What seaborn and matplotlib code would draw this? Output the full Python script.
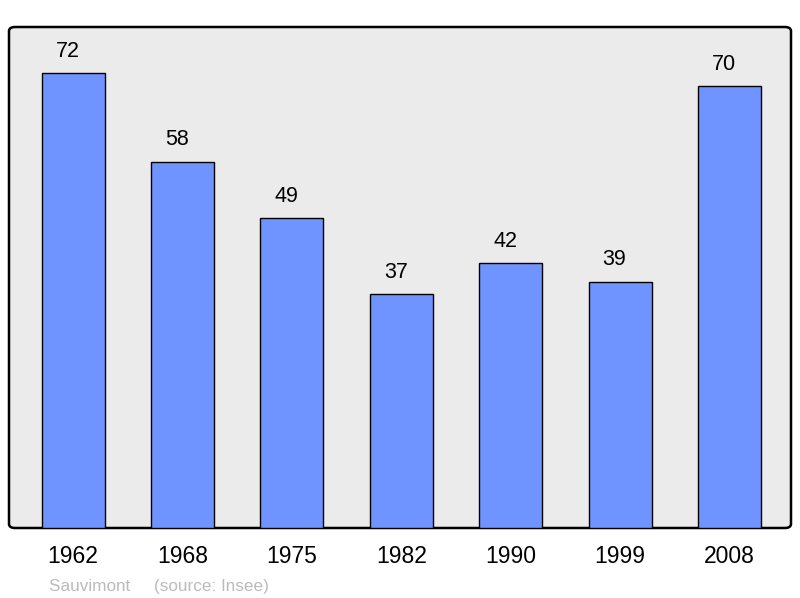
import seaborn as sns
import pandas as pd
import matplotlib.pyplot as plt
from matplotlib.patches import FancyBboxPatch

# population data
years = ['1962', '1968', '1975', '1982', '1990', '1999', '2008']
population = [72, 58, 49, 37, 42, 39, 70]

df = pd.DataFrame({'year': years, 'pop': population})

sns.set_style('white')
plt.rcParams['font.family'] = ['Liberation Sans', 'DejaVu Sans']
plt.rcParams['text.color'] = 'black'
plt.rcParams['xtick.color'] = 'black'

fig = plt.figure(figsize=(8, 5.98), dpi=100)
ax = fig.add_axes([9 / 800, 1 - 528 / 598, 782 / 800, 501 / 598])
ax.set_facecolor('none')

# rounded background frame
frame = FancyBboxPatch((0, 0), 1, 1, boxstyle='round,pad=0,rounding_size=0.008',
                       transform=ax.transAxes, facecolor='#ebebeb', edgecolor='black',
                       linewidth=1.8, zorder=0, clip_on=False)
ax.add_patch(frame)

sns.barplot(data=df, x='year', y='pop', color='#7094ff', saturation=1,
            width=0.576, edgecolor='black', linewidth=1.0, ax=ax, zorder=2)

# value labels sit a little left of the bar centre, as in the original
for i, v in enumerate(population):
    ax.annotate(str(v), (i, v), xytext=(-4, 8), textcoords='offset points',
                ha='center', va='bottom', fontsize=15.5, color='black')

ax.set_xlim(-0.586, 6.563)
ax.set_ylim(0, 79.3)
ax.set_yticks([])
ax.set_xlabel('')
ax.set_ylabel('')
ax.tick_params(axis='x', length=0, pad=12, labelsize=16.5, labelcolor='black')
for s in ax.spines.values():
    s.set_visible(False)

fig.text(49 / 800, 1 - 591 / 598, 'Sauvimont     (source: Insee)', fontsize=12.3,
         color='#bbbbbb', ha='left', va='baseline')

plt.savefig('out.png', dpi=100)
